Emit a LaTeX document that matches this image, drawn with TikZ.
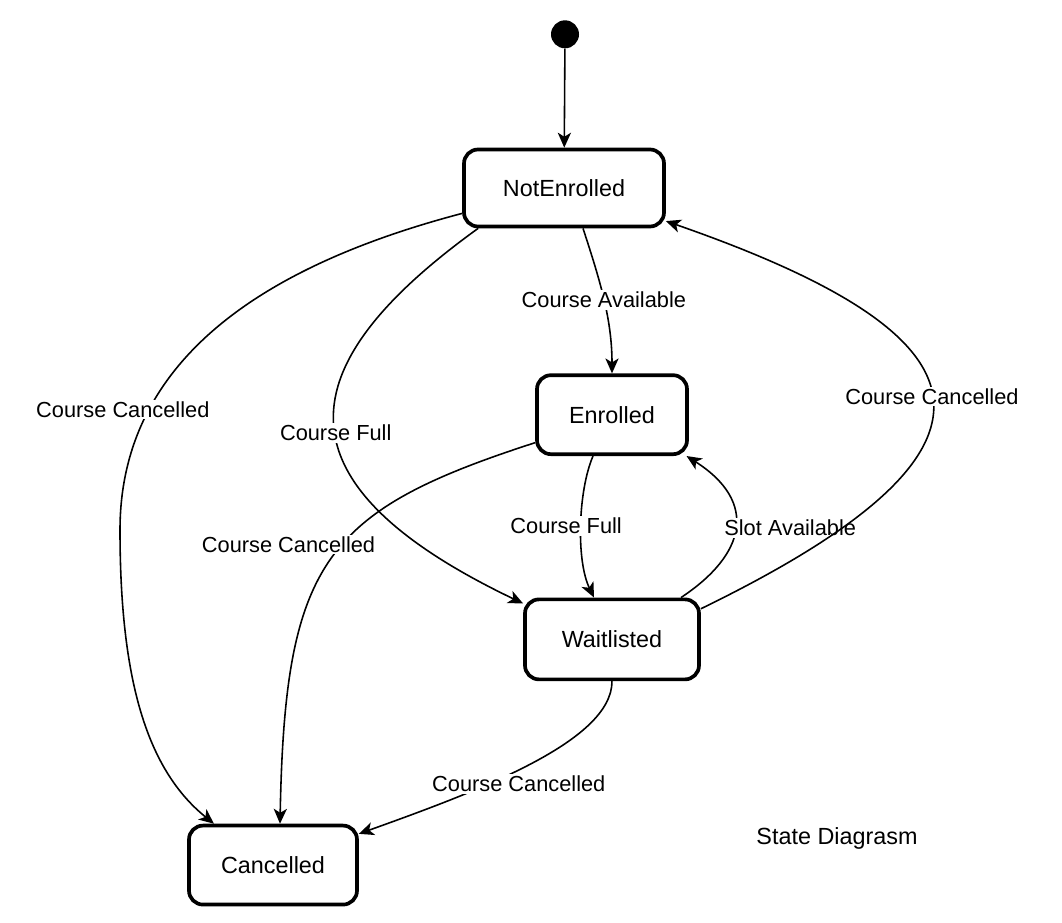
\documentclass[tikz,border=0pt]{standalone}
\usepackage{fontspec}
\setmainfont{Liberation Sans}
\usetikzlibrary{arrows.meta,positioning}

\begin{document}
\begin{tikzpicture}[
            state/.style={rectangle, draw, rounded corners=0.28cm, line width=2.1pt, align=center, fill=white, font=\fontsize{13.3}{16}\selectfont},
            lbl/.style={fill=white, inner sep=1pt, font=\fontsize{12.4}{15}\selectfont},
            initdot/.style={circle, fill=black, minimum size=0.56cm, inner sep=0pt},
            arrow/.style={-{Stealth[length=8.5pt, width=7.5pt, inset=2.3pt]}, line width=0.9pt}
        ]
            \useasboundingbox (0,0) rectangle (21.24,-18.44);

            % --- ESTADOS ---
            \node[state, minimum width=4cm, minimum height=1.54cm] (notenrolled) at (11.28,-3.76) {NotEnrolled};
            \node[initdot, above=1.98cm of notenrolled, xshift=0.02cm] (start) {};
            \node[state, minimum width=3cm, minimum height=1.58cm, below=2.9cm of notenrolled, xshift=0.96cm] (enrolled) {Enrolled};
            \node[state, minimum width=3.48cm, minimum height=1.6cm, below=2.83cm of enrolled] (waitlisted) {Waitlisted};
            \node[state, minimum width=3.36cm, minimum height=1.58cm, below=2.85cm of waitlisted, xshift=-6.78cm] (cancelled) {Cancelled};

            \node[font=\fontsize{13.3}{16}\selectfont] (title) at (16.74,-16.76) {State Diagrasm};

            % --- TRANSICOES ---
            \draw[arrow] (start) -- (notenrolled);
            \draw[arrow] ([xshift=0.38cm]notenrolled.south) .. controls +(0.34,-1.04) and +(0,1.08) .. (enrolled.north) node[lbl, pos=0.5] {Course Available};
            \draw[arrow] ([xshift=0.32cm]notenrolled.south west) .. controls +(-3.8,-2.74) and +(-5.06,2.42) .. (waitlisted.158) node[lbl, pos=0.53] {Course Full};
            \draw[arrow] (notenrolled.194) .. controls +(-3.8,-1.0) and +(0,3.5) .. ([shift={(-8.88,-6.84)}]notenrolled.center) node[lbl, pos=0.74, xshift=-0.52cm] {Course Cancelled}
                .. controls +(0,-3.0) and +(-1.34,1.08) .. (cancelled.145);
            \draw[arrow] ([xshift=-0.38cm]enrolled.south) .. controls +(-0.3,-0.7) and +(-0.36,0.74) .. ([xshift=-0.36cm]waitlisted.north) node[lbl, pos=0.5, xshift=-0.3cm] {Course Full};
            \draw[arrow] (enrolled.200) .. controls +(-4.2,-1.36) and +(0.1,5.26) .. ([xshift=0.14cm]cancelled.north) node[lbl, pos=0.45, xshift=-1.08cm] {Course Cancelled};
            \draw[arrow] ([xshift=1.38cm]waitlisted.north) .. controls +(1.3,0.86) and +(1.44,-0.92) .. (enrolled.-29) node[lbl, pos=0.5, xshift=1.1cm] {Slot Available};
            \draw[arrow] (waitlisted.19) .. controls +(6.7,3.26) and +(6.56,-2.28) .. (notenrolled.-18) node[lbl, pos=0.5] {Course Cancelled};
            \draw[arrow] (waitlisted.south) .. controls +(0,-1.2) and +(2.4,0.86) .. (cancelled.20) node[lbl, pos=0.6, xshift=0.38cm, yshift=-0.1cm] {Course Cancelled};

        \end{tikzpicture}
\end{document}
